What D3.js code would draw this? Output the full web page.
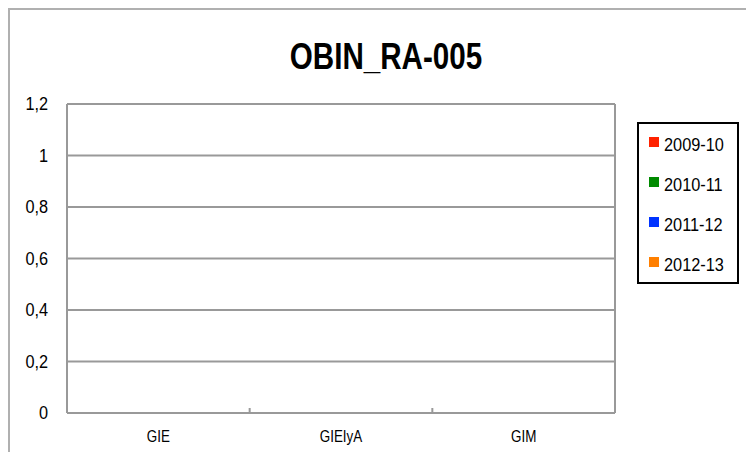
<!DOCTYPE html>
<html>
<head>
<meta charset="utf-8">
<script src="https://cdn.jsdelivr.net/npm/d3@7"></script>
<style>
  body { margin: 0; background: #fff; }
  text { font-family: "Liberation Sans", Arial, sans-serif; fill: #000; }
</style>
</head>
<body>
<div id="chart"></div>
<script>
// OBIN_RA-005 - empty grouped bar chart

var categories = ["GIE", "GIEIyA", "GIM"];
var seriesNames = ["2009-10", "2010-11", "2011-12", "2012-13"];
var seriesColors = ["#ff2200", "#008a00", "#0033ff", "#ff7f00"];
// every value in the picture is zero
var values2009 = [0, 0, 0];
var values2010 = [0, 0, 0];
var values2011 = [0, 0, 0];
var values2012 = [0, 0, 0];
var yTicks = [0, 0.2, 0.4, 0.6, 0.8, 1, 1.2];

var svgWidth = 746;
var svgHeight = 452;

var margin = {
  top: 104,
  right: 131,
  bottom: 39,
  left: 67
};

var width = svgWidth - margin.left - margin.right;
var height = svgHeight - margin.top - margin.bottom;

var svg = d3
  .select("#chart")
  .append("svg")
  .attr("width", svgWidth)
  .attr("height", svgHeight);

// outer frame (runs past the right and bottom edge)
svg.append("rect")
  .attr("x", 9)
  .attr("y", 9)
  .attr("width", 760)
  .attr("height", 470)
  .attr("fill", "none")
  .attr("stroke", "#b0b0b0")
  .attr("stroke-width", 2);

// condensed text: scale glyphs horizontally round the anchor point
function squeezed(sel, x, y, size, sx) {
  return sel.append("text")
    .attr("transform", `translate(${x}, ${y}) scale(${sx}, 1)`)
    .attr("font-size", size + "px");
}

squeezed(svg, 386, 69, 37, 0.8)
  .attr("text-anchor", "middle")
  .attr("font-weight", "bold")
  .text("OBIN_RA-005");

var chartGroup = svg.append("g")
  .attr("transform", `translate(${margin.left}, ${margin.top})`);

var xScale = d3.scaleBand()
  .domain(categories)
  .range([0, width]);

var xInner = d3.scaleBand()
  .domain(seriesNames)
  .range([0, xScale.bandwidth()])
  .paddingInner(0)
  .paddingOuter(0.75);

var yScale = d3.scaleLinear()
  .domain([0, 1.2])
  .range([height, 0]);

// grid lines
chartGroup.append("g")
  .selectAll("line")
  .data(yTicks.slice(1))
  .enter()
  .append("line")
  .attr("x1", 0)
  .attr("x2", width)
  .attr("y1", function(d) { return yScale(d); })
  .attr("y2", function(d) { return yScale(d); })
  .attr("stroke", "#999")
  .attr("stroke-width", 2);

// right border of plot
chartGroup.append("line")
  .attr("x1", width)
  .attr("x2", width)
  .attr("y1", 0)
  .attr("y2", height)
  .attr("stroke", "#999")
  .attr("stroke-width", 2);

// bars (all zero height)
var seriesData = [values2009, values2010, values2011, values2012];
seriesData.forEach(function(vals, i) {
  chartGroup.append("g")
    .selectAll("rect")
    .data(vals)
    .enter()
    .append("rect")
    .attr("x", function(d, j) { return xScale(categories[j]) + xInner(seriesNames[i]); })
    .attr("width", xInner.bandwidth())
    .attr("y", function(d) { return yScale(d); })
    .attr("height", function(d) { return height - yScale(d); })
    .attr("fill", seriesColors[i]);
});

// y axis
chartGroup.append("line")
  .attr("x1", 0)
  .attr("x2", 0)
  .attr("y1", 0)
  .attr("y2", height)
  .attr("stroke", "#999")
  .attr("stroke-width", 2);

var fmt = function(d) { return String(d).replace(".", ","); };
yTicks.forEach(function(t) {
  squeezed(chartGroup, -19, yScale(t) + 6, 18.5, 0.88)
    .attr("text-anchor", "end")
    .text(fmt(t));
});

// x axis
chartGroup.append("line")
  .attr("x1", 0)
  .attr("x2", width)
  .attr("y1", height)
  .attr("y2", height)
  .attr("stroke", "#999")
  .attr("stroke-width", 2);

chartGroup.append("g")
  .selectAll("line")
  .data(categories.slice(1))
  .enter()
  .append("line")
  .attr("x1", function(d) { return xScale(d); })
  .attr("x2", function(d) { return xScale(d); })
  .attr("y1", height)
  .attr("y2", height - 5)
  .attr("stroke", "#999")
  .attr("stroke-width", 2);

categories.forEach(function(c) {
  squeezed(chartGroup, xScale(c) + xScale.bandwidth() / 2, height + 29, 16, 0.84)
    .attr("text-anchor", "middle")
    .text(c);
});

// legend
var legend = svg.append("g")
  .attr("transform", "translate(638, 123)");

legend.append("rect")
  .attr("width", 100)
  .attr("height", 160)
  .attr("fill", "#fff")
  .attr("stroke", "#000")
  .attr("stroke-width", 2);

seriesNames.forEach(function(name, i) {
  legend.append("rect")
    .attr("x", 11)
    .attr("y", 14 + i * 40)
    .attr("width", 10)
    .attr("height", 10)
    .attr("fill", seriesColors[i]);
  squeezed(legend, 26, 28 + i * 40, 19, 0.86)
    .text(name);
});
</script>
</body>
</html>
